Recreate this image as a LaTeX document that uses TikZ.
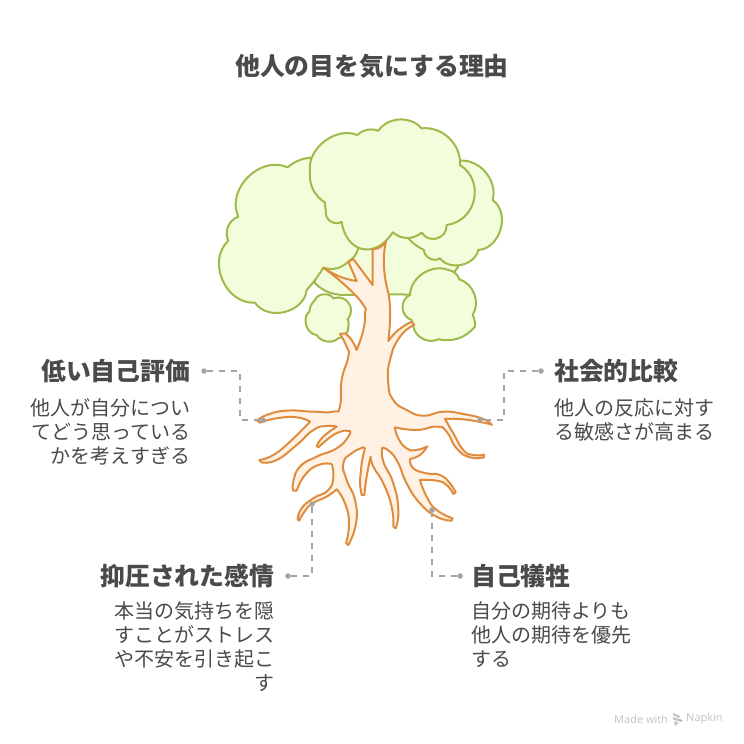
\documentclass[tikz,border=0pt]{standalone}
\usepackage{fontspec}
\setmainfont{Noto Sans CJK JP}
\newfontfamily\lat{Open Sans}
\definecolor{ink}{HTML}{4A4A4A}
\definecolor{leafline}{HTML}{9DBA4B}
\definecolor{leaffill}{HTML}{F2FEDB}
\definecolor{woodline}{HTML}{E08C3E}
\definecolor{woodfill}{HTML}{FFF1E3}
\definecolor{conn}{HTML}{A3A3A3}
\definecolor{creditgray}{HTML}{C4C4BE}
\tikzset{
  leaf/.style={draw=leafline,fill=leaffill,line width=2pt,line join=round},
  wood/.style={draw=woodline,fill=woodfill,line width=2pt,line join=round},
  heading/.style={inner sep=0pt,text=ink,font=\fontsize{24.85}{28}\selectfont\bfseries},
  bodytext/.style={inner sep=0pt,text=ink,font=\fontsize{20}{24}\selectfont},
  linkdot/.style={circle,fill=conn,inner sep=0pt,minimum size=5.5pt},
  link/.style={draw=conn,line width=1.7pt,dash pattern=on 6pt off 6pt},
  zone/.style={shift={(200,110)},x=0.3333pt,y=-0.3333pt},
  ztwo/.style={shift={(230,320)},x=0.3333pt,y=-0.3333pt},
  sm/.style={smooth,tension=0.9},
  bp/.style 2 args={bend left=#1,looseness=#2},
}
\begin{document}
\begin{tikzpicture}[x=1pt,y=-1pt]
\useasboundingbox (0,0) rectangle (744,744);
\fill[white] (0,0) rectangle (744,744);
\node[heading,anchor=center] (title) at (372,66) {他人の目を気にする理由};
% back foliage
\begin{scope}[zone]
\path[leaf] (345,520) to[bend right=20] (430,555) -- (600,553) to[bend right=30] (775,470) -- (600,300) -- (345,400) -- cycle;
\path[leaf] (780,152) to[bp={55}{1}] (878,270) to[bp={70}{1.1}] (835,420)
  to[bp={65}{1.05}] (720,445) to[bp={65}{1}] (672,420) to[bp={10}{1}] (625,385) -- (600,250) -- cycle;
\path[leaf] (262,172) to[bp={15}{1}] (330,143) -- (450,250) -- (475,415) to[bp={20}{1}] (445,455)
  to[bp={30}{1}] (370,473) to[bp={5}{1}] (320,540) to[bp={70}{1.1}] (165,578)
  to[bp={70}{1.13}] (85,392) to[bp={48}{1}] (115,320) to[bp={70}{1.1}] (262,172) -- cycle;
% main crown
\path[leaf] (330,185) to[bp={60}{1}] (472,75) to[bp={30}{1}] (535,62) to[bp={52}{1}] (665,55)
  to[bp={50}{1}] (780,165) to[bp={70}{1.25}] (740,345) to[bp={75}{1.35}] (665,368)
  to[bp={40}{1}] (578,367) to[bp={70}{1.57}] (425,335) to[bp={70}{1.1}] (378,305)
  to[bp={5}{1}] (375,278) to[bp={30}{1}] (330,185) -- cycle;
% small crowns
\path[leaf] (630,555) to[bp={55}{1}] (745,480) to[bp={30}{1}] (778,508) to[bp={53}{1}] (818,615)
  to[bp={15}{1}] (825,650) to[bp={30}{1}] (715,688) to[bp={53}{1}] (640,650) to[bp={5}{1}] (635,630)
  to[bp={70}{1.2}] (630,555) -- cycle;
\path[leaf] (345,570) to[bp={65}{1}] (400,565) to[bp={75}{1.4}] (443,628) to[bp={20}{1}] (445,650)
  to[bp={45}{1}] (415,685) to[bp={50}{1}] (350,675) to[bp={70}{1.05}] (328,605) to[bp={20}{1}] (345,570) -- cycle;
\end{scope}
% trunk and roots
\begin{scope}[ztwo]
\path[wood]
  plot[sm] coordinates {(428,-105)(428,-212)} to[bend right=25] (468,-235)
  -- plot[sm] coordinates {(468,-235)(462,-190)(465,-130)(480,-40)(475,63)}
  -- plot[sm] coordinates {(475,63)(505,30)(545,5)} -- (553,15)
  -- plot[sm] coordinates {(553,15)(510,50)(480,120)(475,190)(490,240)(530,270)(580,287)(640,275)(700,282)(760,297)(785,315)}
  -- plot[sm] coordinates {(785,315)(770,310)(700,298)(645,297)}
  -- plot[sm] coordinates {(645,297)(670,340)(700,390)(730,405)(762,404)}
  -- plot[sm] coordinates {(762,412)(720,412)(680,385)(650,335)(620,320)(560,330)(495,322)}
  -- plot[sm] coordinates {(495,322)(505,355)(530,385)(560,390)(592,379)}
  -- plot[sm] coordinates {(592,379)(570,405)(540,417)}
  -- plot[sm] coordinates {(540,417)(550,445)(590,460)(630,465)(660,490)(677,518)}
  -- plot[sm] coordinates {(670,522)(650,495)(620,482)(570,480)}
  -- plot[sm] coordinates {(570,480)(590,530)(620,570)(668,595)}
  -- plot[sm] coordinates {(665,602)(620,590)(570,550)(530,490)(505,430)(480,395)(457,383)}
  -- plot[sm] coordinates {(457,383)(460,425)(490,490)(505,570)(497,625)}
  -- plot[sm] coordinates {(490,620)(485,560)(460,490)(430,440)(422,410)}
  -- plot[sm] coordinates {(422,410)(410,470)(403,525)}
  -- plot[sm] coordinates {(395,525)(390,480)(395,430)(405,385)}
  -- plot[sm] coordinates {(400,382)(365,400)(340,430)(350,480)(375,540)(378,610)(355,675)}
  -- plot[sm] coordinates {(348,670)(357,610)(345,550)(320,508)}
  -- plot[sm] coordinates {(320,508)(290,530)(245,552)(220,580)(208,602)}
  -- plot[sm] coordinates {(203,598)(215,565)(250,535)(295,510)(310,470)(305,432)}
  -- plot[sm] coordinates {(305,432)(265,435)(225,465)(200,512)}
  -- plot[sm] coordinates {(190,512)(190,485)(210,440)(260,410)(320,385)(355,350)(360,333)}
  -- plot[sm] coordinates {(345,332)(310,345)(265,382)}
  -- plot[sm] coordinates {(260,378)(280,350)(320,320)}
  -- plot[sm] coordinates {(320,320)(290,318)(250,330)(200,375)(140,420)(95,427)}
  -- plot[sm] coordinates {(88,420)(130,405)(180,365)(240,305)}
  -- plot[sm] coordinates {(240,305)(200,292)(140,295)(90,308)}
  -- plot[sm] coordinates {(82,302)(110,285)(170,272)(250,275)(310,275)(330,258)(335,180)(355,110)(350,80)(330,42)} -- (345,40)
  -- plot[sm] coordinates {(345,40)(365,60)(380,90)}
  -- plot[sm] coordinates {(380,90)(400,30)(405,-20)(400,-45)(350,-100)(280,-157)}
  -- plot[sm] coordinates {(280,-157)(330,-130)(380,-117)}
  -- (355,-175) -- (370,-183) -- (428,-105) -- cycle;
\end{scope}
% connectors
\node[linkdot] (d1a) at (204,371) {};
\node[linkdot] (d1b) at (263,420) {};
\node[linkdot] (d2a) at (541,371) {};
\node[linkdot] (d2b) at (480,420) {};
\node[linkdot] (d3a) at (288,576) {};
\node[linkdot] (d3b) at (312,504) {};
\node[linkdot] (d4a) at (460,576) {};
\node[linkdot] (d4b) at (432,510) {};
\coordinate (k1) at (240,371); \coordinate (k1b) at (240,420);
\coordinate (k2) at (504,371); \coordinate (k2b) at (504,420);
\draw[link] (d1a) -- (k1) -- (k1b) -- (d1b);
\draw[link] (d2a) -- (k2) -- (k2b) -- (d2b);
\draw[link] (d3a) -| (d3b);
\draw[link] (d4a) -| (d4b);
% texts
\node[heading,anchor=east] (h1) at (190.5,371) {低い自己評価};
\node[bodytext,anchor=north east,align=right] (b1) at (191,398) {他人が自分につい\\てどう思っている\\かを考えすぎる};
\node[heading,anchor=west] (h2) at (554,371) {社会的比較};
\node[bodytext,anchor=north west,align=left] (b2) at (554,398) {他人の反応に対す\\る敏感さが高まる};
\node[heading,anchor=east] (h3) at (274.5,576) {抑圧された感情};
\node[bodytext,anchor=north east,align=right] (b3) at (275,601) {本当の気持ちを隠\\すことがストレス\\や不安を引き起こ\\す};
\node[heading,anchor=west] (h4) at (471,576) {自己犠牲};
\node[bodytext,anchor=north west,align=left] (b4) at (471,601) {自分の期待よりも\\他人の期待を優先\\する};
% credit
\node[inner sep=0pt,anchor=west,text=creditgray,font=\lat\fontsize{11}{12}\selectfont] (mw) at (614,719) {Made with};
\node[inner sep=0pt,anchor=west,text=creditgray,font=\lat\fontsize{11}{12}\selectfont] (np) at (686,719) {Napkin};
\fill[creditgray] (673,713) -- (680,716) -- (679,718) -- (673,715) -- cycle
  (673,717) -- (683,720) -- (681,722) -- (673,719.5) -- cycle
  (674,721) -- (679,723) -- (675,726) -- cycle;
\end{tikzpicture}
\end{document}
